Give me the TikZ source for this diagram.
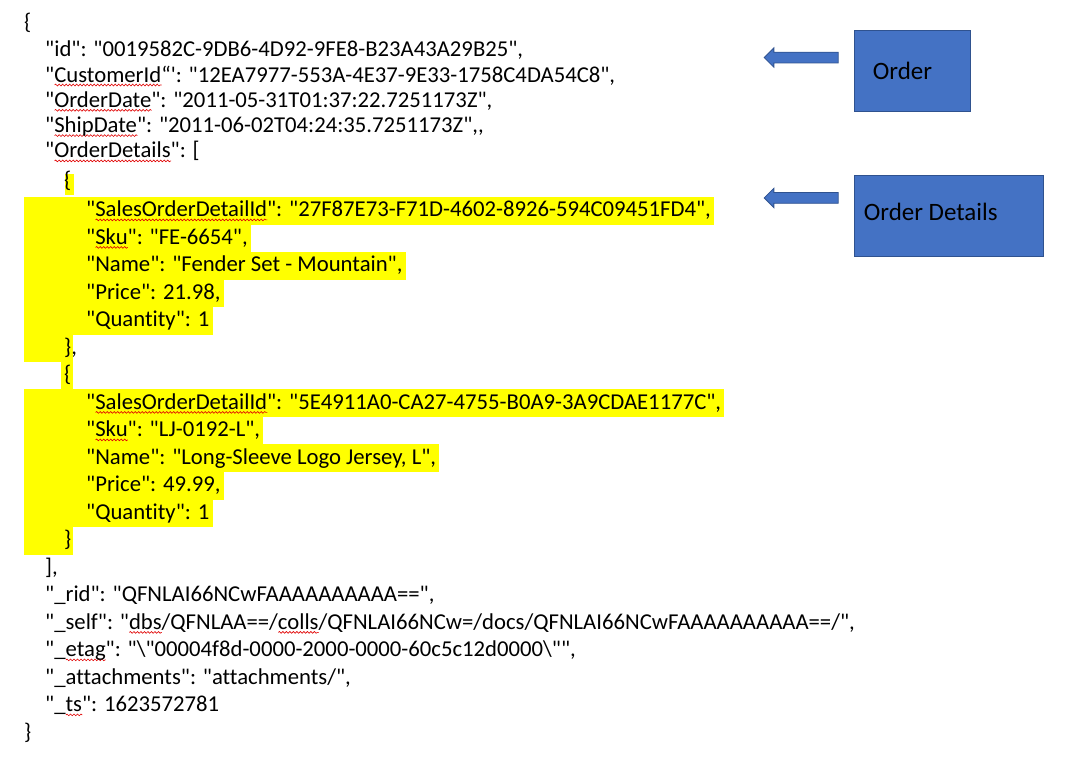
\documentclass[tikz,border=0pt]{standalone}
\usepackage{fontspec}
\setmainfont{Carlito}[Ligatures={TeXOff,NoCommon}]
\usepackage{tikz}
\usetikzlibrary{matrix, positioning, shapes.arrows, backgrounds, decorations.pathmorphing}

\definecolor{boxblue}{HTML}{4472C4}
\definecolor{boxline}{HTML}{2F528F}
\definecolor{hlyellow}{HTML}{FFFF00}
\definecolor{spellred}{HTML}{E00000}

\newlength\spellw
\newcommand\spell[1]{\settowidth\spellw{#1}\rlap{\tikz[baseline=0pt]\draw[spellwave] (0pt,-3pt) -- (\spellw,-3pt);}#1}
\newcommand\ind[1]{\hspace*{#1pt}}

\tikzset{
  hl/.style={fill=hlyellow},
  spellwave/.style={draw=spellred, line width=0.6pt, decorate, decoration={snake, amplitude=0.9pt, segment length=3.5pt}},
  bluebox/.style={draw=boxline, fill=boxblue, line width=0.8pt, minimum height=81pt},
  boxlabel/.style={font=\fontsize{25pt}{30pt}\selectfont, text=black, inner sep=0pt},
  blockarrow/.style={single arrow, draw=boxline, fill=boxblue, line width=0.8pt, minimum height=74pt, minimum width=18.5pt, single arrow head extend=4.25pt, shape border rotate=180, inner sep=5pt}
}

\begin{document}
\begin{tikzpicture}[x=1pt, y=-1pt]
\useasboundingbox (0,0) rectangle (1069,760);
\matrix (J)[matrix of nodes, anchor=north west, inner sep=0pt, row sep=0pt, nodes={anchor=base west, inner sep=0pt, text height=20pt, text depth=7.5pt, font=\fontsize{22.7pt}{27.5pt}\selectfont}] at (24,9) {
\{ \\
\ind{21}"id": "0019582C-9DB6-4D92-9FE8-B23A43A29B25", \\[-2.2pt]
\ind{21}"\spell{CustomerId}“\textquotesingle: "12EA7977-553A-4E37-9E33-1758C4DA54C8", \\[-2.2pt]
\ind{21}"\spell{OrderDate}": "2011-05-31T01:37:22.7251173Z", \\[-2.2pt]
\ind{21}"\spell{ShipDate}": "2011-06-02T04:24:35.7251173Z",, \\[-2.2pt]
\ind{21}"\spell{OrderDetails}": [ \\[2pt]
\ind{40}\{ \\[2pt]
\ind{62}"\spell{SalesOrderDetailId}": "27F87E73-F71D-4602-8926-594C09451FD4", \\
\ind{62}"\spell{Sku}": "FE-6654", \\
\ind{62}"Name": "Fender Set - Mountain", \\
\ind{62}"Price": 21.98, \\
\ind{62}"Quantity": 1 \\
\ind{40}\}, \\
\ind{40}\{ \\
\ind{62}"\spell{SalesOrderDetailId}": "5E4911A0-CA27-4755-B0A9-3A9CDAE1177C", \\
\ind{62}"\spell{Sku}": "LJ-0192-L", \\
\ind{62}"Name": "Long-Sleeve Logo Jersey, L", \\
\ind{62}"Price": 49.99, \\
\ind{62}"Quantity": 1 \\
\ind{40}\} \\
\ind{21}], \\
\ind{21}"\_rid": "QFNLAI66NCwFAAAAAAAAAA==", \\
\ind{21}"\_self": "\spell{dbs}/QFNLAA==/\spell{colls}/QFNLAI66NCw=/docs/QFNLAI66NCwFAAAAAAAAAA==/", \\
\ind{21}"\_\spell{etag}": "\textbackslash"00004f8d-0000-2000-0000-60c5c12d0000\textbackslash"", \\
\ind{21}"\_attachments": "attachments/", \\
\ind{21}"\_\spell{ts}": 1623572781 \\
\} \\
};

% highlighted order details
\begin{scope}[on background layer]
\fill[hl] ([xshift=41pt,yshift=-6.3pt]J-7-1.north west) rectangle ([xshift=50pt]J-7-1.south west);
\foreach \r in {8,...,12}
  \fill[hl] (J-\r-1.north west) rectangle ([xshift=3pt]J-\r-1.south east);
\fill[hl] (J-13-1.north west) rectangle ([xshift=49pt]J-13-1.south west);
\fill[hl] ([xshift=37pt]J-14-1.north west) rectangle ([xshift=49pt]J-14-1.south west);
\foreach \r in {15,...,19}
  \fill[hl] (J-\r-1.north west) rectangle ([xshift=3pt]J-\r-1.south east);
\fill[hl] (J-20-1.north west) rectangle ([xshift=49pt]J-20-1.south west);
\end{scope}

\node[bluebox, minimum width=116pt] (ordbox) at (912,70.5) {};
\node[bluebox, minimum width=189pt] (detbox) at (948.5,215.5) {};
\node[boxlabel, right=19pt of ordbox.west] (ordlabel) {Order};
\node[boxlabel, right=10pt of detbox.west, yshift=3.5pt] (detlabel) {Order Details};
\node[blockarrow, anchor=tail] (ordarrow) at ([xshift=-15pt,yshift=-28pt]ordbox.north west) {};
\node[blockarrow, anchor=tail] (detarrow) at ([xshift=-15pt,yshift=-23.3pt]detbox.north west) {};
\end{tikzpicture}
\end{document}
